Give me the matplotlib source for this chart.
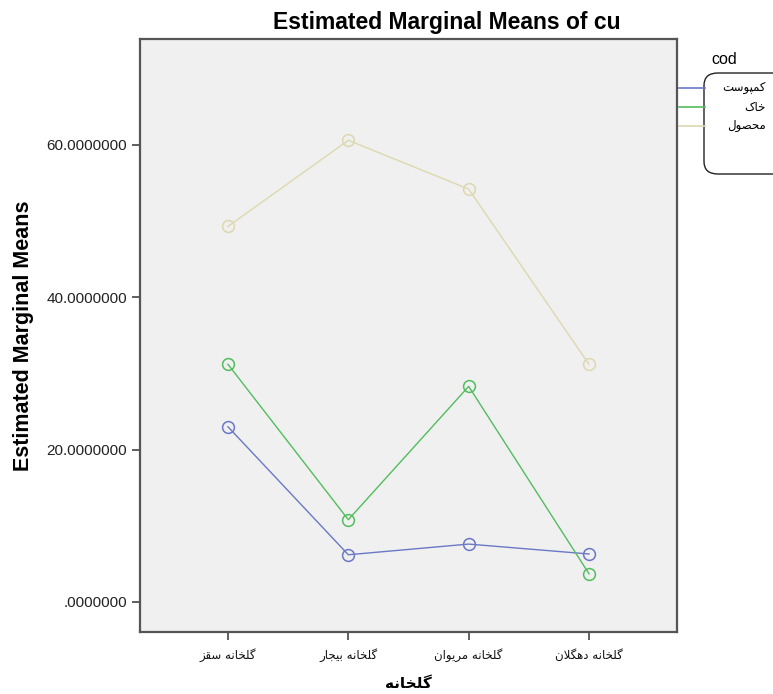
import numpy as np
import matplotlib.pyplot as plt
from matplotlib.lines import Line2D
from matplotlib.patches import FancyBboxPatch

# Datos
categorias = ['گلخانه سقز', 'گلخانه بیجار', 'گلخانه مریوان', 'گلخانه دهگلان']
series = ['کمپوست', 'خاک', 'محصول']
kompost = [23.0, 6.2, 7.6, 6.3]
khak = [31.2, 10.8, 28.3, 3.7]
mahsul = [49.3, 60.6, 54.2, 31.2]
valores = [kompost, khak, mahsul]
colores = ['#6a78c6', '#52bd5e', '#ddd8ae']
y_ticks = [0, 20, 40, 60]
y_tick_labels = ['.0000000', '20.0000000', '40.0000000', '60.0000000']

# Formas de presentacion arabes: (aislada, final, inicial, media)
FORMAS = {
    'گ': ('\uFB92', '\uFB93', '\uFB94', '\uFB95'),
    'ل': ('\uFEDD', '\uFEDE', '\uFEDF', '\uFEE0'),
    'خ': ('\uFEA5', '\uFEA6', '\uFEA7', '\uFEA8'),
    'ا': ('\uFE8D', '\uFE8E'),
    'ن': ('\uFEE5', '\uFEE6', '\uFEE7', '\uFEE8'),
    'ه': ('\uFEE9', '\uFEEA', '\uFEEB', '\uFEEC'),
    'س': ('\uFEB1', '\uFEB2', '\uFEB3', '\uFEB4'),
    'ق': ('\uFED5', '\uFED6', '\uFED7', '\uFED8'),
    'ز': ('\uFEAF', '\uFEB0'),
    'ب': ('\uFE8F', '\uFE90', '\uFE91', '\uFE92'),
    'ی': ('\uFBFC', '\uFBFD', '\uFBFE', '\uFBFF'),
    'ج': ('\uFE9D', '\uFE9E', '\uFE9F', '\uFEA0'),
    'ر': ('\uFEAD', '\uFEAE'),
    'م': ('\uFEE1', '\uFEE2', '\uFEE3', '\uFEE4'),
    'و': ('\uFEED', '\uFEEE'),
    'د': ('\uFEA9', '\uFEAA'),
    'ک': ('\uFB8E', '\uFB8F', '\uFB90', '\uFB91'),
    'پ': ('\uFB56', '\uFB57', '\uFB58', '\uFB59'),
    'ت': ('\uFE95', '\uFE96', '\uFE97', '\uFE98'),
    'ص': ('\uFEB9', '\uFEBA', '\uFEBB', '\uFEBC'),
    'ح': ('\uFEA1', '\uFEA2', '\uFEA3', '\uFEA4'),
}


def dual(c):
    return c in FORMAS and len(FORMAS[c]) == 4


def dar_forma(texto):
    # Unir letras y poner en orden visual (derecha a izquierda)
    palabras = []
    for palabra in texto.split(' '):
        letras = list(palabra)
        out = []
        i = 0
        while i < len(letras):
            c = letras[i]
            prev_une = i > 0 and dual(letras[i - 1])
            if c == 'ل' and i + 1 < len(letras) and letras[i + 1] == 'ا':
                out.append('\uFEFC' if prev_une else '\uFEFB')
                i += 2
                continue
            f = FORMAS.get(c)
            if f is None:
                out.append(c)
                i += 1
                continue
            sig_une = dual(c) and i + 1 < len(letras) and letras[i + 1] in FORMAS
            if prev_une and sig_une:
                out.append(f[3])
            elif prev_une:
                out.append(f[1])
            elif sig_une:
                out.append(f[2])
            else:
                out.append(f[0])
            i += 1
        palabras.append(''.join(out)[::-1])
    return ' '.join(palabras[::-1])


W, H = 773, 694
fig = plt.figure(figsize=(W / 100, H / 100), dpi=100)
ax = fig.add_axes([140 / W, 1 - 632 / H, 537 / W, 593 / H])
ax.set_facecolor('#f0f0f0')

x = np.arange(len(categorias))
for vals, col in zip(valores, colores):
    ax.plot(x, vals, color=col, linewidth=1.0, marker='o', markersize=8.5,
            markerfacecolor='none', markeredgecolor=col, markeredgewidth=1.1)

ax.set_xlim(-0.731, 3.731)
ax.set_ylim(-3.94, 73.9)
ax.set_yticks(y_ticks)
ax.set_yticklabels(y_tick_labels, family='Liberation Sans', fontsize=11, color='#222222')
ax.set_xticks(x)
ax.set_xticklabels([dar_forma(c) for c in categorias], family='DejaVu Sans',
                   fontsize=8.5, color='#111111')
ax.tick_params(direction='out', length=6, width=1.2, color='#444444')
ax.tick_params(axis='x', pad=6)
for s in ax.spines.values():
    s.set_color('#555555')
    s.set_linewidth(1.6)

ax.set_ylabel('Estimated Marginal Means', family='Liberation Sans', fontweight='bold',
              fontsize=15.5, labelpad=9)
ax.set_xlabel(dar_forma('گلخانه'), family='DejaVu Sans', fontweight='bold',
              fontsize=11, labelpad=10)
fig.text(447 / W, 1 - 23 / H, 'Estimated Marginal Means of cu', family='Liberation Sans',
         fontweight='bold', fontsize=16.5, ha='center', va='center')

# Leyenda dibujada a mano
def px(xp, yp):
    return xp / W, 1 - yp / H

fig.text(*px(711, 60), 'cod', family='Liberation Sans', fontsize=11.5,
         ha='left', va='center')
caja = FancyBboxPatch(px(704, 174), 120 / W, 101 / H,
                      boxstyle='round,pad=0,rounding_size=0.018',
                      transform=fig.transFigure, facecolor='white',
                      edgecolor='#222222', linewidth=1.0)
fig.add_artist(caja)
for k, (nombre, col) in enumerate(zip(series, colores)):
    yy = 88 + k * 19
    x0, y0 = px(679, yy)
    x1, _ = px(705, yy)
    fig.add_artist(Line2D([x0, x1], [y0, y0], color=col, linewidth=1.2,
                          transform=fig.transFigure))
    fig.text(*px(766, yy), dar_forma(nombre), family='DejaVu Sans', fontsize=8.5,
             ha='right', va='center')

fig.savefig('out.png', dpi=100)
